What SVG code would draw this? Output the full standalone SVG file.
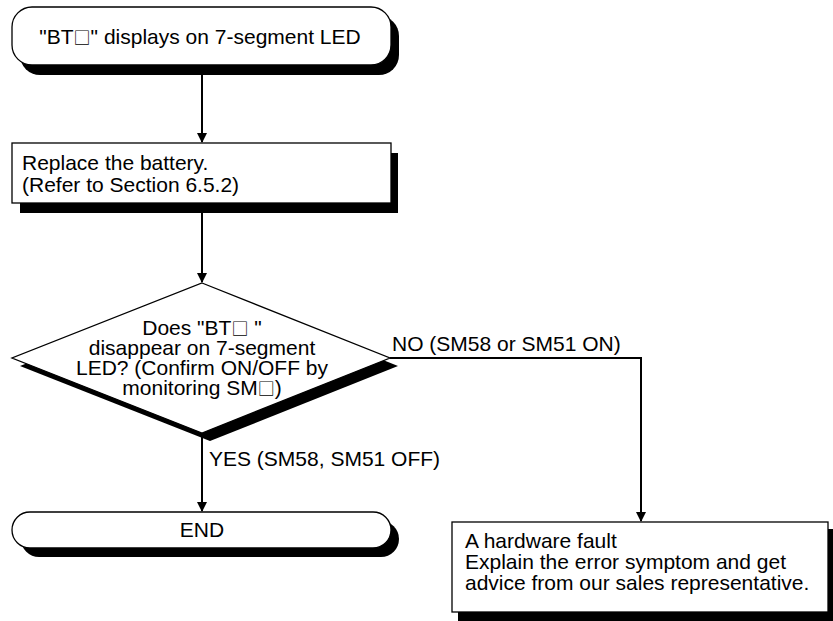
<svg xmlns="http://www.w3.org/2000/svg" width="833" height="621" viewBox="0 0 833 621">
<defs>
<style>
text{font-family:"Liberation Sans",Arial,"DejaVu Sans",sans-serif;font-size:21px;fill:#000}
.c{text-anchor:middle}
.sq{font-family:"Noto Sans CJK JP","DejaVu Sans",sans-serif;font-size:17px}
.shape{fill:#fff;stroke:#000;stroke-width:1.3}
.shadow{fill:#000;stroke:none}
.line{fill:none;stroke:#000;stroke-width:2}
</style>
<marker id="arr" markerWidth="10" markerHeight="10" refX="9" refY="5" orient="auto" markerUnits="userSpaceOnUse">
<path d="M0,0 L10,5 L0,10 Z" fill="#000"/>
</marker>
</defs>
<rect width="833" height="621" fill="#fff"/>

<g id="connectors">
<line class="line" x1="202" y1="65" x2="202" y2="142" marker-end="url(#arr)"/>
<line class="line" x1="202" y1="203" x2="202" y2="282" marker-end="url(#arr)"/>
<line class="line" x1="202" y1="433" x2="202" y2="511" marker-end="url(#arr)"/>
<polyline class="line" points="390,358 641,358 641,521" marker-end="url(#arr)"/>
<text x="392" y="351">NO (SM58 or SM51 ON)</text>
<text x="209" y="466">YES (SM58, SM51 OFF)</text>
</g>

<g id="start">
<rect class="shadow" x="20" y="16" width="379" height="59" rx="20" ry="20"/>
<rect class="shape" x="12" y="7" width="379" height="58" rx="20" ry="20"/>
<text class="c" x="200" y="44">"BT<tspan class="sq">□</tspan>" displays on 7-segment LED</text>
</g>

<g id="replace">
<rect class="shadow" x="20" y="153" width="378" height="60"/>
<rect class="shape" x="12" y="143" width="379" height="60"/>
<text x="22" y="170">Replace the battery.</text>
<text x="22" y="192">(Refer to Section 6.5.2)</text>
</g>

<g id="decision">
<polygon class="shadow" points="210,291 398,366 210,441 20,366"/>
<polygon class="shape" points="202,283 390,358 202,433 12,358"/>
<text class="c" x="202" y="335">Does "BT<tspan class="sq">□</tspan> "</text>
<text class="c" x="202" y="355">disappear on 7-segment</text>
<text class="c" x="202" y="375">LED? (Confirm ON/OFF by</text>
<text class="c" x="202" y="395">monitoring SM<tspan class="sq">□</tspan>)</text>
</g>

<g id="end">
<rect class="shadow" x="21" y="521" width="378" height="36" rx="18" ry="18"/>
<rect class="shape" x="12" y="512" width="379" height="36" rx="18" ry="18"/>
<text class="c" x="202" y="537">END</text>
</g>

<g id="fault">
<rect class="shadow" x="458" y="529" width="380" height="92"/>
<rect class="shape" x="452" y="522" width="376" height="90"/>
<text x="465" y="548">A hardware fault</text>
<text x="465" y="569">Explain the error symptom and get</text>
<text x="465" y="590">advice from our sales representative.</text>
</g>
</svg>
